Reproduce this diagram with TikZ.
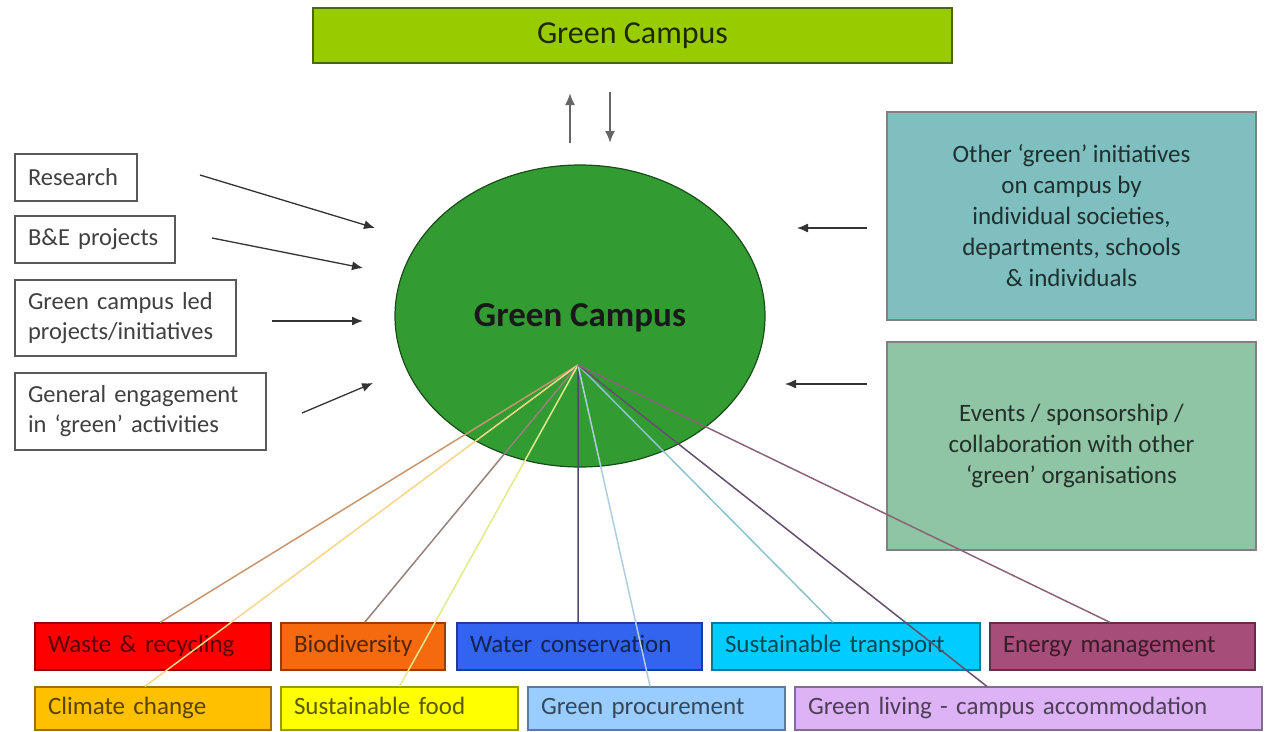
\documentclass[tikz,border=0pt]{standalone}
\usepackage{fontspec}
\setmainfont{Carlito}
\usetikzlibrary{arrows.meta,shapes.geometric,calc}
\definecolor{topgreen}{RGB}{153,204,0}
\definecolor{circgreen}{RGB}{50,155,50}
\definecolor{otherfill}{RGB}{127,191,192}
\definecolor{eventfill}{RGB}{143,196,165}
\definecolor{cwaste}{RGB}{255,0,0}
\definecolor{cbio}{RGB}{245,105,15}
\definecolor{cwater}{RGB}{50,100,240}
\definecolor{ctrans}{RGB}{0,204,255}
\definecolor{cenergy}{RGB}{166,77,121}
\definecolor{cclimate}{RGB}{255,192,0}
\definecolor{cfood}{RGB}{255,255,0}
\definecolor{cproc}{RGB}{153,204,255}
\definecolor{cliving}{RGB}{221,179,245}
\definecolor{lwaste}{RGB}{200,150,110}
\definecolor{lclimate}{RGB}{245,215,140}
\definecolor{lbio}{RGB}{150,130,125}
\definecolor{lfood}{RGB}{225,235,140}
\definecolor{lwater}{RGB}{75,75,110}
\definecolor{lproc}{RGB}{175,205,225}
\definecolor{ltrans}{RGB}{140,195,205}
\definecolor{lliving}{RGB}{100,80,110}
\definecolor{lenergy}{RGB}{140,100,120}
\begin{document}
\begin{tikzpicture}[x=1pt,y=-1pt,
  lbox/.style={draw=black!65, line width=1.3pt, fill=white, text=black!75,
    font=\fontsize{24.5}{30}\selectfont, align=left, inner xsep=13pt, inner ysep=0pt},
  rbox/.style={draw=black!50, line width=1.3pt, align=center,
    font=\fontsize{25}{31}\selectfont, minimum width=369pt, minimum height=208pt, inner sep=0pt},
  cat/.style={draw=#1!60!black, fill=#1, line width=1.3pt, text=#1!35!black,
    font=\fontsize{25}{30}\selectfont, align=left, inner xsep=13pt, inner ysep=0pt,
    text height=17pt, text depth=5pt},
  inarrow/.style={-{Latex[length=11pt,width=9pt]}, line width=1.3pt, draw=black!80},
  vertarrow/.style={-{Latex[length=12pt,width=10pt]}, line width=2pt, draw=black!60},
  fanline/.style={line width=1.5pt}
]
\useasboundingbox (0,0) rectangle (1268,731);
\fill[white] (0,0) rectangle (1268,731);

% top box
\node[draw=topgreen!50!black, fill=topgreen, line width=1.3pt, minimum width=639pt, minimum height=55pt,
  inner sep=0pt, text=topgreen!20!black, font=\fontsize{32}{36}\selectfont] (top) at (632.5,35.5) {Green Campus};

% central ellipse
\node[ellipse, draw=circgreen!50!black, fill=circgreen, line width=1.2pt, minimum width=370pt,
  minimum height=302pt, inner sep=0pt] (circ) at (580,316) {};
\node[text=black!90, font=\bfseries\fontsize{35}{40}\selectfont] (circlabel) at (580,318) {Green Campus};
\coordinate (fan) at (578,365);

% top arrows
\coordinate (upA) at (570,143); \coordinate (upB) at (570,93);
\coordinate (dnA) at (610,92);  \coordinate (dnB) at (610,143);
\draw[vertarrow] (upA) -- (upB);
\draw[vertarrow] (dnA) -- (dnB);

% left boxes
\node[lbox, text width=96pt, minimum height=47pt] (res) at (76,177.5) {Research};
\node[lbox, text width=134pt, minimum height=47pt] (be) at (95,239.5) {B\&E projects};
\node[lbox, text width=195pt, minimum height=76pt] (gcl) at (125.5,318) {Green campus led\\projects/initiatives};
\node[lbox, text width=225pt, minimum height=77pt] (gen) at (140.5,411.5) {General engagement\\in ‘green’ activities};

\coordinate (resA) at (200,175); \coordinate (resB) at (375,228);
\coordinate (beA) at (212,238);  \coordinate (beB) at (363,268);
\coordinate (gclA) at (272,321); \coordinate (gclB) at (363,321);
\coordinate (genA) at (302,413); \coordinate (genB) at (373,383);
\draw[inarrow] (resA) -- (resB);
\draw[inarrow] (beA) -- (beB);
\draw[inarrow] (gclA) -- (gclB);
\draw[inarrow] (genA) -- (genB);

% right boxes
\node[rbox, fill=otherfill, text=otherfill!25!black] (other) at (1071.5,216)
  {Other ‘green’ initiatives\\on campus by\\individual societies,\\departments, schools\\\& individuals};
\node[rbox, fill=eventfill, text=eventfill!25!black] (events) at (1071.5,446)
  {Events / sponsorship /\\collaboration with other\\‘green’ organisations};
\coordinate (othA) at (867,228); \coordinate (othB) at (797,228);
\coordinate (evA) at (867,384);  \coordinate (evB) at (785,384);
\draw[inarrow] (othA) -- (othB);
\draw[inarrow] (evA) -- (evB);

% bottom row 1
\node[cat=cwaste, text width=210pt, minimum height=47pt] (waste) at (153,646.5) {Waste \& recycling};
\node[cat=cbio, text width=138pt, minimum height=47pt] (bio) at (363,646.5) {Biodiversity};
\node[cat=cwater, text width=219pt, minimum height=47pt] (water) at (579.5,646.5) {Water conservation};
\node[cat=ctrans, text width=242pt, minimum height=47pt] (trans) at (846,646.5) {Sustainable transport};
\node[cat=cenergy, text width=239pt, minimum height=47pt] (energy) at (1122.5,646.5) {Energy management};
% bottom row 2
\node[cat=cclimate, text width=210pt, minimum height=43pt] (climate) at (153,708.5) {Climate change};
\node[cat=cfood, text width=211pt, minimum height=43pt] (food) at (399.5,708.5) {Sustainable food};
\node[cat=cproc, text width=231pt, minimum height=43pt] (proc) at (656.5,708.5) {Green procurement};
\node[cat=cliving, text width=441pt, minimum height=43pt] (living) at (1028.5,708.5) {Green living - campus accommodation};

% fan lines
\draw[fanline, lwaste] (fan) -- ($(waste.north west)!0.53!(waste.north east)$);
\draw[fanline, lclimate] (fan) -- ($(climate.north west)!0.466!(climate.north east)$);
\draw[fanline, lbio] (fan) -- ($(bio.north west)!0.51!(bio.north east)$);
\draw[fanline, lfood] (fan) -- ($(food.north west)!0.50!(food.north east)$);
\draw[fanline, lwater] (fan) -- ($(water.north west)!0.494!(water.north east)$);
\draw[fanline, lproc] (fan) -- ($(proc.north west)!0.475!(proc.north east)$);
\draw[fanline, ltrans] (fan) -- ($(trans.north west)!0.451!(trans.north east)$);
\draw[fanline, lliving] (fan) -- ($(living.north west)!0.411!(living.north east)$);
\draw[fanline, lenergy] (fan) -- ($(energy.north west)!0.453!(energy.north east)$);
\end{tikzpicture}
\end{document}
